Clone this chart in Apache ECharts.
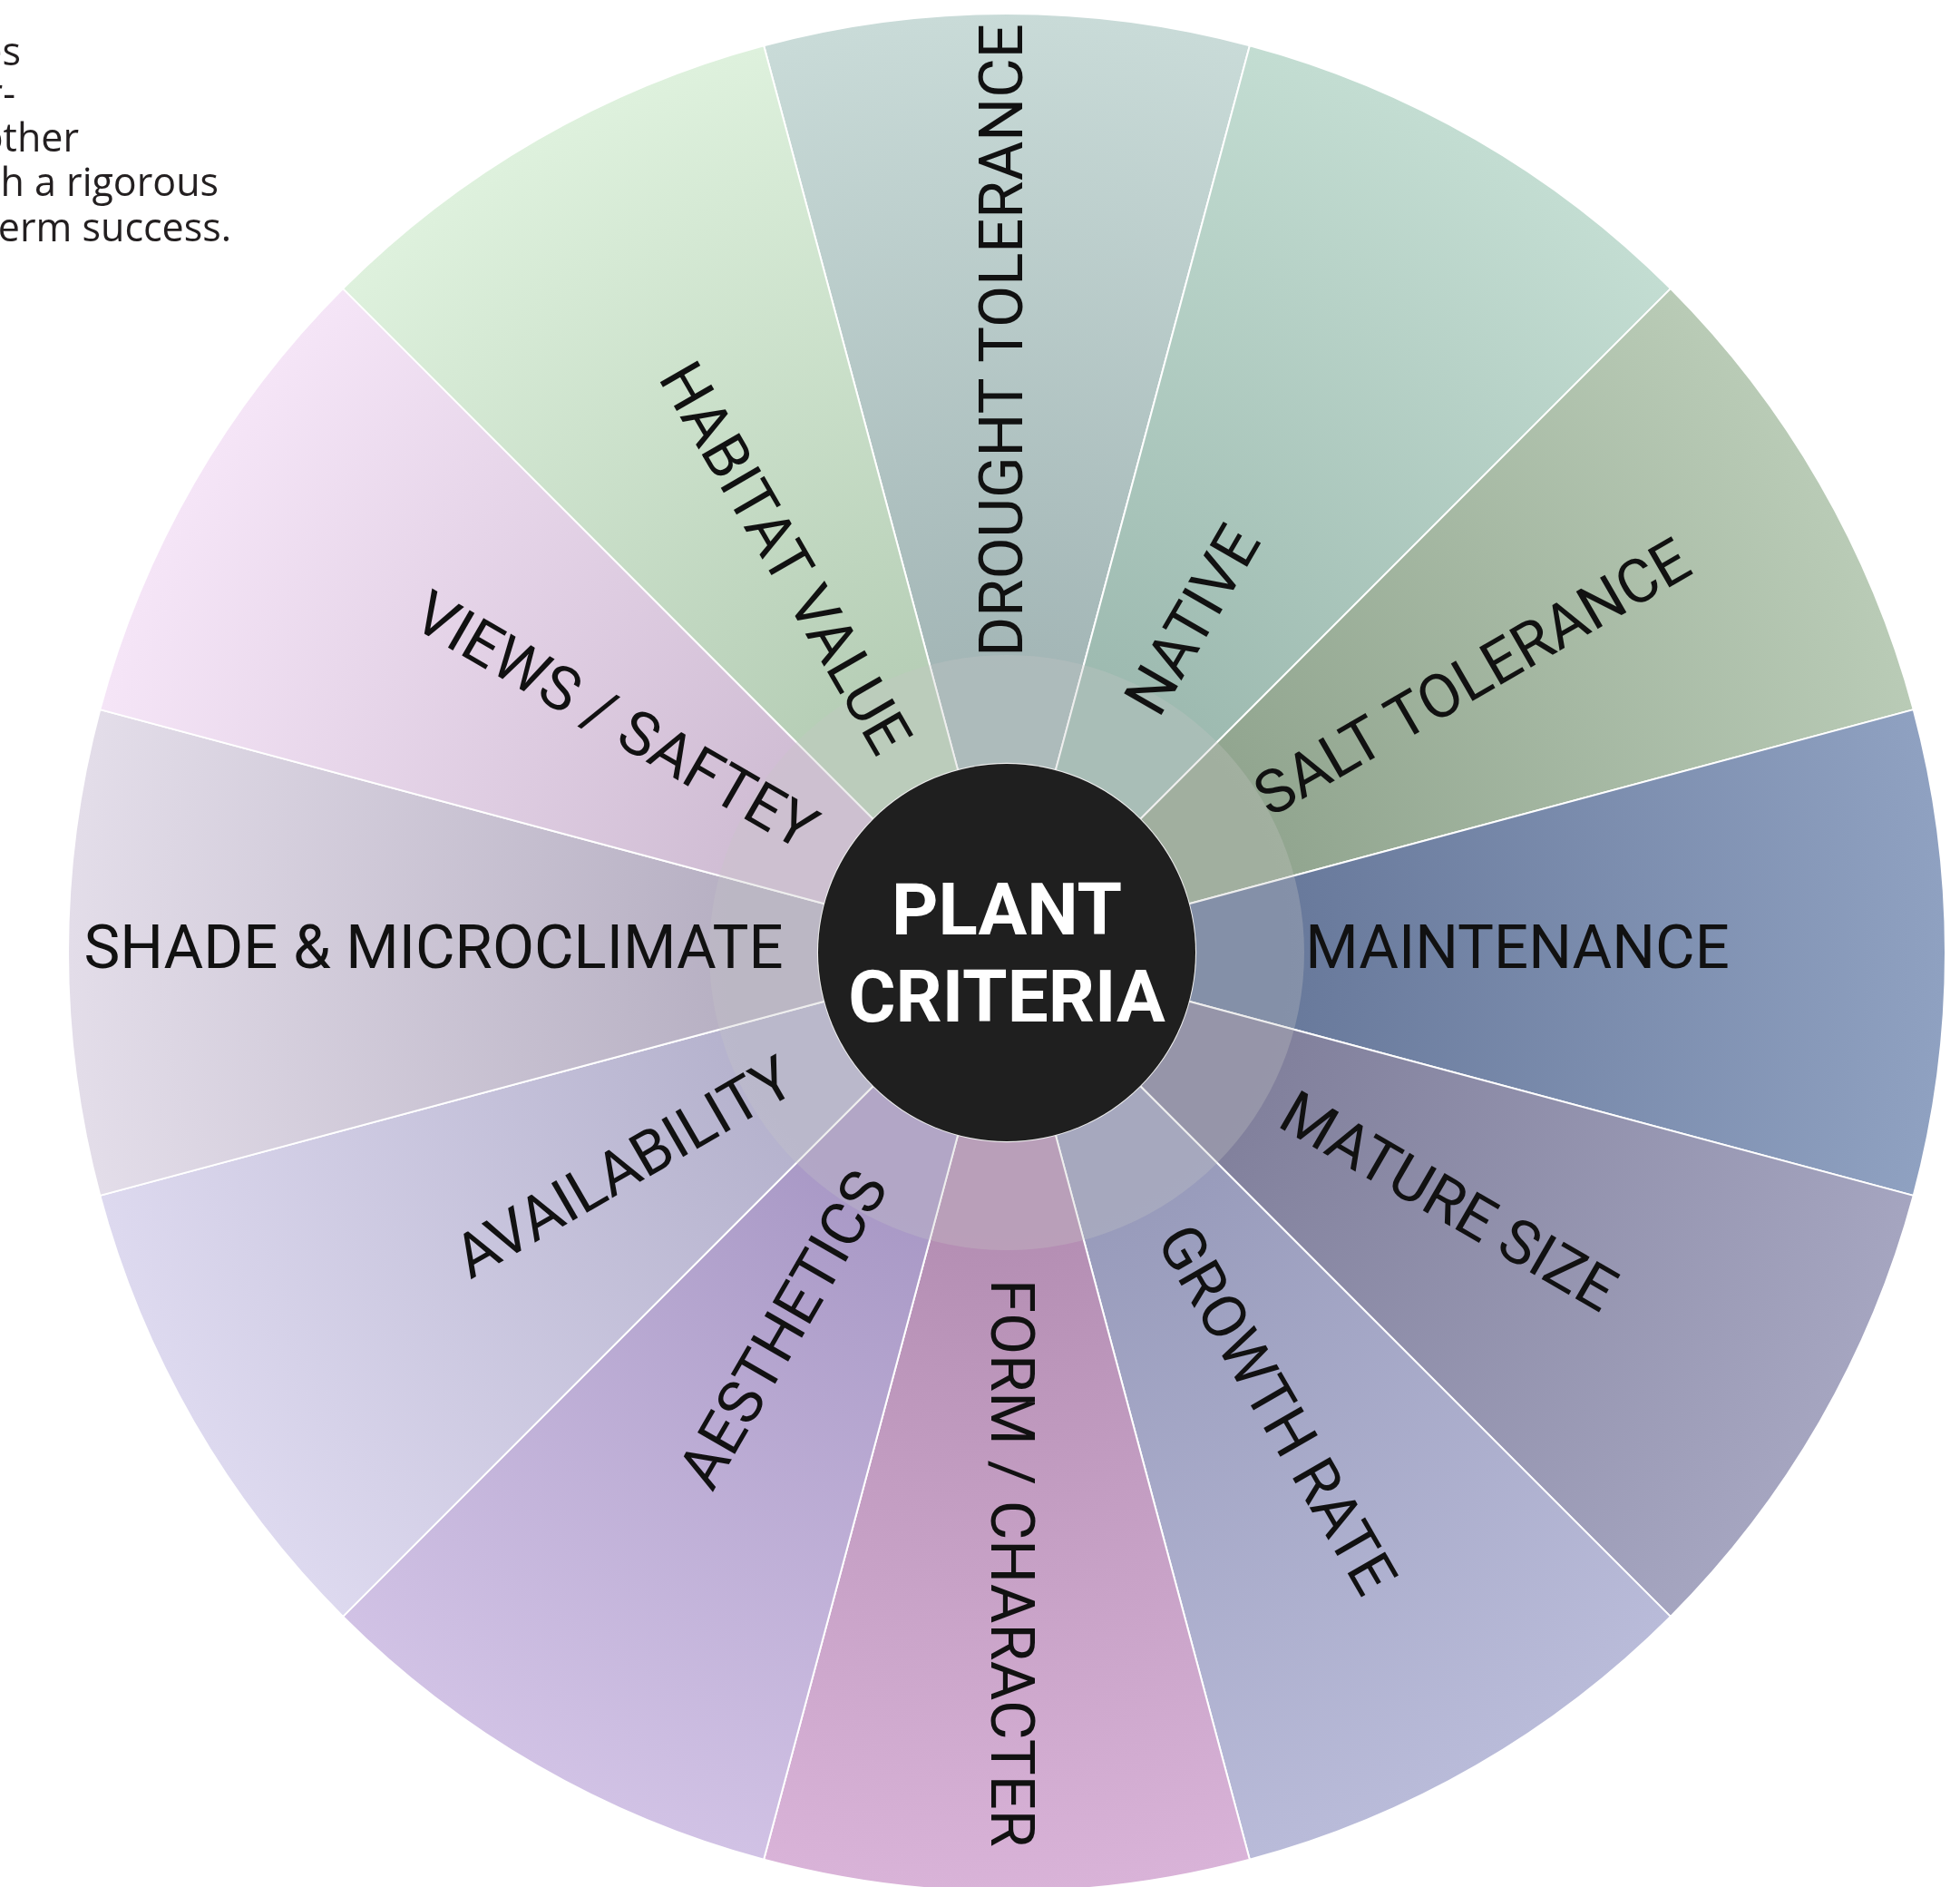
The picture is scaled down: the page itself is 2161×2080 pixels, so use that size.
<!DOCTYPE html>
<html>
<head>
<meta charset="utf-8">
<title>Plant Criteria</title>
<script src="https://cdn.jsdelivr.net/npm/echarts@6/dist/echarts.min.js"></script>
<style>
    html, body { margin: 0; padding: 0; background: #ffffff; }
    #main { width: 2161px; height: 2080px; }
</style>
</head>
<body>
<div id="main"></div>
<script>
// criteria, clockwise from the top
var criteria = ['DROUGHT TOLERANCE', 'NATIVE', 'SALT TOLERANCE', 'MAINTENANCE', 'MATURE SIZE', 'GROWTH RATE',
    'FORM / CHARACTER', 'AESTHETICS', 'AVAILABILITY', 'SHADE & MICROCLIMATE', 'VIEWS / SAFTEY', 'HABITAT VALUE'];
var weights = [1, 1, 1, 1, 1, 1, 1, 1, 1, 1, 1, 1];
var hubTitle = 'PLANT\nCRITERIA';

// colour of each slice at the rim and near the hub
var outerColors = ['#c9dbd8', '#c3ddd2', '#b9cbb6', '#8fa1c1', '#a5a5c0', '#b9bbd9',
    '#d9b3d8', '#d1c2e5', '#ddd9ef', '#e3dde9', '#f5e5f7', '#def1dd'];
var innerColors = ['#a3b6b6', '#9dbab0', '#91a58f', '#68799b', '#81809c', '#989bbb',
    '#b48eb3', '#a999c6', '#b5b2cd', '#b7b0c3', '#d0bdd4', '#b6ceb6'];

// distance of each label centre from the hub, px
var labelRadius = [672, 417, 593, 560, 556, 582, 670, 480, 481, 629, 498, 496];

// the cut-off intro paragraph at the top left
var introLines = ['es', 'r-', 'other', 'h a rigorous', 'erm success.'];
var introRight = [23, 17, 87, 241, 255];
var introMiddle = [60, 106, 155, 204, 254];

var cx = 1110, cy = 1050;
var rHole = 208, rRing = 328, rOuter = 1035;
var midR = (rHole + rOuter) / 2;

var myChart = echarts.init(document.getElementById('main'));

function sliceData() {
    return criteria.map(function (name, i) {
        return {
            name: name,
            value: weights[i],
            itemStyle: {
                color: new echarts.graphic.RadialGradient(cx, cy, rOuter, [
                    { offset: 0.3, color: innerColors[i] },
                    { offset: 1, color: outerColors[i] }
                ], true)
            }
        };
    });
}

function labelData() {
    return criteria.map(function (name, i) {
        var ang = i * 360 / criteria.length;
        var s = labelRadius[i] - midR;
        // left half reads toward the hub, so the shift flips
        var fwd = ang > 180 ? -s : s;
        var lab = { padding: fwd > 0 ? [0, 0, 0, 2 * fwd] : [0, -2 * fwd, 0, 0] };
        if (ang === 0) lab.rotate = 90;
        if (ang === 180) lab.rotate = -90;
        return { name: name, value: weights[i], label: lab };
    });
}

var startAngle = 90 + 180 / criteria.length;

var graphics = introLines.map(function (t, i) {
    return {
        type: 'text',
        x: introRight[i],
        y: introMiddle[i],
        silent: true,
        style: {
            text: t,
            align: 'right',
            verticalAlign: 'middle',
            font: '43px "Open Sans"',
            fill: '#231f20'
        }
    };
});
graphics.push({
    type: 'text',
    x: cx,
    y: cy + 8,
    z: 100,
    silent: true,
    style: {
        text: hubTitle,
        align: 'center',
        verticalAlign: 'middle',
        font: 'bold 80px Roboto',
        lineHeight: 96,
        fill: '#ffffff'
    }
});

var option = {
    backgroundColor: '#ffffff',
    animation: false,
    graphic: graphics,
    series: [
        {
            type: 'pie',
            z: 2,
            silent: true,
            center: [cx, cy],
            radius: [rHole, rOuter],
            startAngle: startAngle,
            label: { show: false },
            labelLine: { show: false },
            itemStyle: { borderColor: '#ffffff', borderWidth: 2 },
            data: sliceData()
        },
        {
            type: 'pie',
            z: 3,
            silent: true,
            center: [cx, cy],
            radius: [rHole, rRing],
            label: { show: false },
            labelLine: { show: false },
            itemStyle: { color: 'rgba(200,200,200,0.3)', borderWidth: 0 },
            data: [1]
        },
        {
            type: 'pie',
            z: 4,
            silent: true,
            center: [cx, cy],
            radius: [rHole, rOuter],
            startAngle: startAngle,
            itemStyle: { color: 'rgba(0,0,0,0)', borderWidth: 0 },
            labelLine: { show: false },
            label: {
                show: true,
                position: 'inside',
                rotate: 'radial',
                color: '#111111',
                fontFamily: 'Roboto',
                fontSize: 67,
                formatter: '{b}'
            },
            data: labelData()
        },
        {
            type: 'pie',
            z: 5,
            silent: true,
            center: [cx, cy],
            radius: [0, rHole],
            itemStyle: { color: '#1f1f1f', borderWidth: 0 },
            label: { show: false },
            labelLine: { show: false },
            data: [1]
        }
    ]
};
myChart.setOption(option);
</script>
</body>
</html>
